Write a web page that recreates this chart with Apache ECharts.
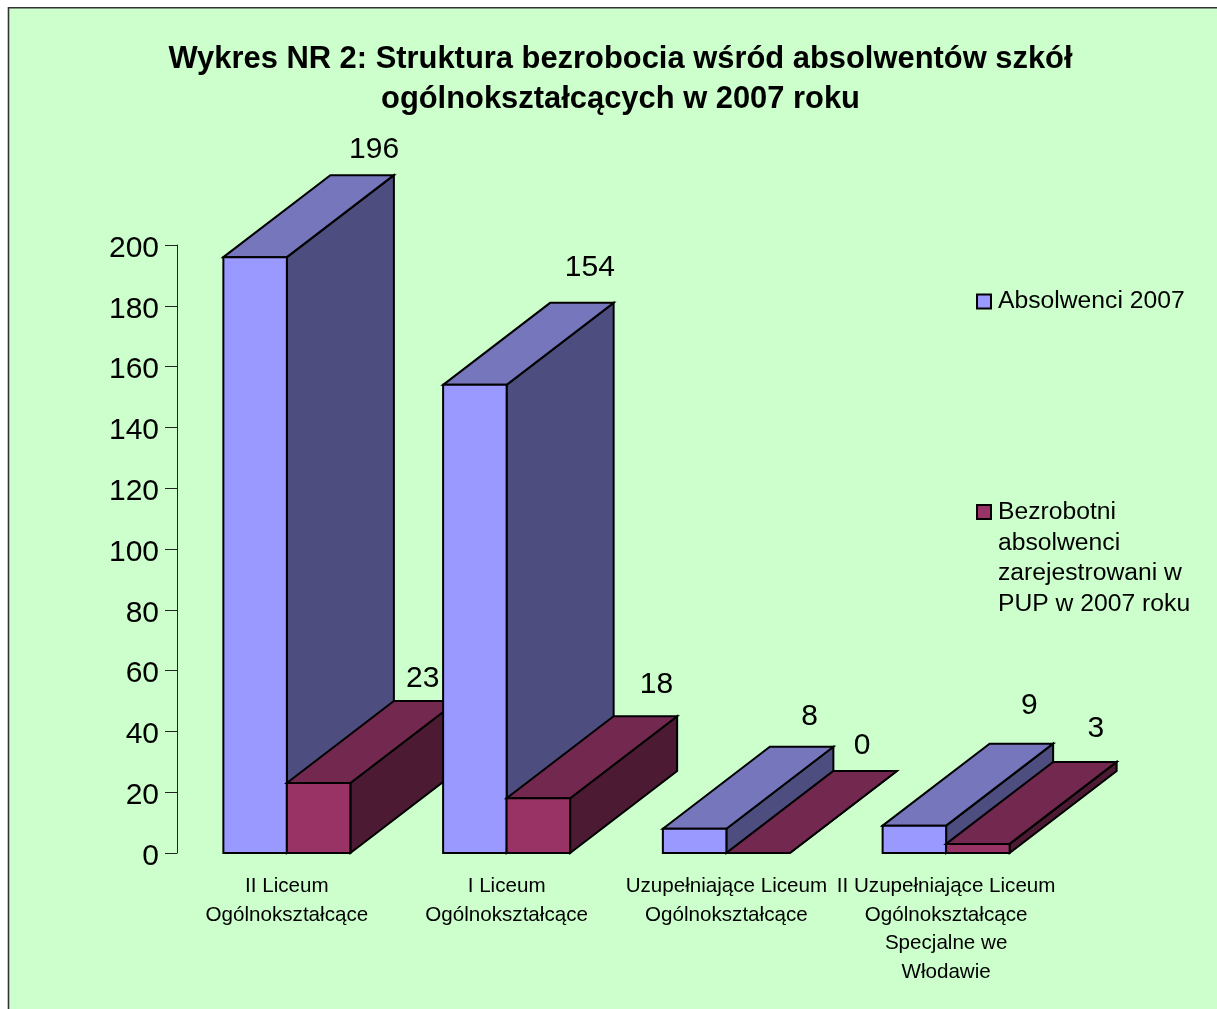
<!DOCTYPE html>
<html>
<head>
<meta charset="utf-8">
<style>
  html, body { margin: 0; padding: 0; background: #fff; }
  #chart { width: 1217px; height: 1009px; }
</style>
<script src="https://cdn.jsdelivr.net/npm/echarts@6/dist/echarts.min.js"></script>
</head>
<body>
<div id="chart"></div>
<script>
const categories = [
  'II Liceum\nOgólnokształcące',
  'I Liceum\nOgólnokształcące',
  'Uzupełniające Liceum\nOgólnokształcące',
  'II Uzupełniające Liceum\nOgólnokształcące\nSpecjalne we\nWłodawie'
];
const absolwenci = [196, 154, 8, 9];
const bezrobotni = [23, 18, 0, 3];
const seriesNames = ['Absolwenci 2007', 'Bezrobotni absolwenci zarejestrowani w PUP w 2007 roku'];
const wrappedLegend = 'Bezrobotni\nabsolwenci\nzarejestrowani w\nPUP w 2007 roku';

// label nudges from the back top edge of each box, excel placed them unevenly
const blueLabelNudge = [[12, -25], [8, -35], [8, -30], [8, -38]];
const redLabelNudge = [[-3, -22], [11, -32], [-3, -25], [11, -33]];

const FONT = '"Liberation Sans", Arial, sans-serif';
const DEPTH_X = 107;
const DEPTH_Y = -82;
const BAR_RATIO = 0.289;
const EDGE = { stroke: '#000', lineWidth: 2, lineJoin: 'miter' };

const blueFaces = { front: '#9999ff', top: '#7676bd', side: '#4d4d80' };
const redFaces = { front: '#993366', top: '#732850', side: '#4d1a33' };

function boxRenderer(seriesIndex, faces, nudges) {
  return (params, api) => {
    const i = api.value(0);
    const value = api.value(1);
    const base = api.coord([i, 0]);
    const head = api.coord([i, value]);
    const w = api.size([1, 0])[0] * BAR_RATIO;
    const x0 = base[0] + (seriesIndex === 0 ? -w : 0);
    const x1 = x0 + w;
    const y0 = base[1];
    const y1 = head[1];
    // later categories have to cover the side of the one before
    const z2 = i * 2 + seriesIndex;
    const face = (points, fill) => ({
      type: 'polygon',
      z2,
      shape: { points },
      style: Object.assign({ fill }, EDGE)
    });
    return {
      type: 'group',
      children: [
        face([[x1, y0], [x1 + DEPTH_X, y0 + DEPTH_Y], [x1 + DEPTH_X, y1 + DEPTH_Y], [x1, y1]], faces.side),
        face([[x0, y1], [x0 + DEPTH_X, y1 + DEPTH_Y], [x1 + DEPTH_X, y1 + DEPTH_Y], [x1, y1]], faces.top),
        face([[x0, y0], [x1, y0], [x1, y1], [x0, y1]], faces.front),
        {
          type: 'text',
          z2: 100,
          style: {
            x: (x0 + x1) / 2 + DEPTH_X + nudges[i][0],
            y: y1 + DEPTH_Y + nudges[i][1],
            text: String(value),
            fill: '#000',
            font: '30px ' + FONT,
            align: 'center',
            verticalAlign: 'middle'
          }
        }
      ]
    };
  };
}

const chart = echarts.init(document.getElementById('chart'));
chart.setOption({
  animation: false,
  backgroundColor: '#fff',
  graphic: [{
    type: 'rect',
    z: -10,
    silent: true,
    shape: { x: 8.5, y: 7.8, width: 1300, height: 1100 },
    style: { fill: '#ccffcc', stroke: '#333', lineWidth: 1.6 }
  }],
  title: {
    text: 'Wykres NR 2: Struktura bezrobocia wśród absolwentów szkół\nogólnokształcących w 2007 roku',
    left: 615.5,
    top: 34,
    textAlign: 'center',
    textStyle: { fontFamily: FONT, fontSize: 30.9, fontWeight: 'bold', color: '#000', lineHeight: 40 }
  },
  legend: [
    {
      left: 976,
      top: 289,
      padding: 0,
      itemWidth: 14,
      itemHeight: 14,
      itemGap: 0,
      selectedMode: false,
      textStyle: { fontFamily: FONT, fontSize: 24.7, color: '#000', padding: [0, 0, 0, 2] },
      data: [{ name: seriesNames[0], icon: 'rect', itemStyle: { color: '#9999ff', borderColor: '#000', borderWidth: 2 } }]
    },
    {
      left: 976,
      top: 496,
      padding: 0,
      itemWidth: 14,
      itemHeight: 122,
      itemGap: 0,
      selectedMode: false,
      formatter: () => wrappedLegend,
      textStyle: { fontFamily: FONT, fontSize: 24.7, lineHeight: 30.5, color: '#000', padding: [0, 0, 0, 2] },
      // tall icon with a small square at the top so it sits beside the first line
      data: [{
        name: seriesNames[1],
        icon: 'path://M0 8H14V22H0Z M0 0L0 0 M0 122L0 122',
        itemStyle: { color: '#993366', borderColor: '#000', borderWidth: 2 }
      }]
    }
  ],
  grid: { left: 177, top: 245, width: 879, height: 608 },
  xAxis: {
    type: 'category',
    data: categories,
    axisLine: { show: false },
    axisTick: { show: false },
    axisLabel: {
      interval: 0,
      margin: 19,
      color: '#000',
      fontFamily: FONT,
      fontSize: 20.6,
      lineHeight: 28.7
    }
  },
  yAxis: {
    type: 'value',
    min: 0,
    max: 200,
    interval: 20,
    splitLine: { show: false },
    axisLine: { show: true, lineStyle: { color: '#222', width: 1 } },
    axisTick: { show: true, length: 12, lineStyle: { color: '#222', width: 1 } },
    // short line box pushes the digits down onto the tick like the original
    axisLabel: { color: '#000', fontFamily: FONT, fontSize: 30, margin: 18, verticalAlign: 'top', lineHeight: 7 }
  },
  series: [
    {
      name: seriesNames[0],
      type: 'custom',
      renderItem: boxRenderer(0, blueFaces, blueLabelNudge),
      encode: { x: 0, y: 1 },
      data: absolwenci.map((v, i) => [i, v])
    },
    {
      name: seriesNames[1],
      type: 'custom',
      renderItem: boxRenderer(1, redFaces, redLabelNudge),
      encode: { x: 0, y: 1 },
      data: bezrobotni.map((v, i) => [i, v])
    }
  ]
});
</script>
</body>
</html>
